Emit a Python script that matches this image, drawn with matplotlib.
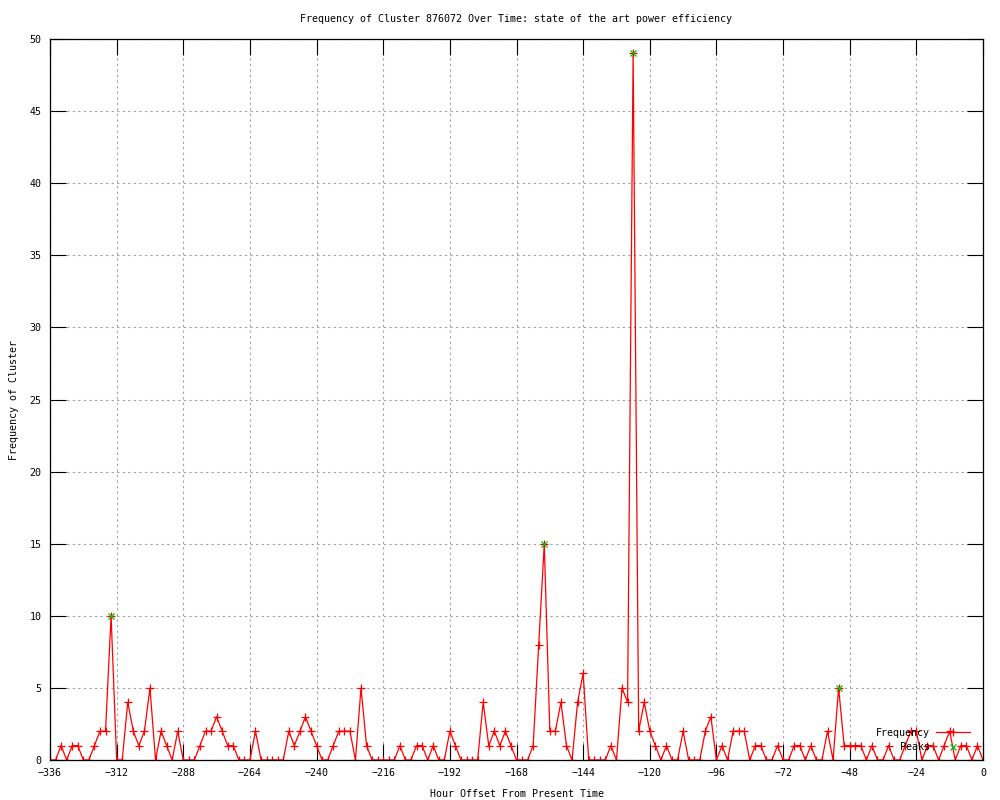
import numpy as np
import matplotlib
matplotlib.use("Agg")
import matplotlib.pyplot as plt

plt.rcParams['font.family'] = ['DejaVu Sans Mono']
plt.rcParams['font.size'] = 7.2

# hourly offsets, one sample every 2 hours
hours = np.arange(-336, 1, 2)

freq = [
    0, 0, 1, 0, 1, 1, 0, 0, 1, 2,
    2, 10, 0, 0, 4, 2, 1, 2, 5, 0,
    2, 1, 0, 2, 0, 0, 0, 1, 2, 2,
    3, 2, 1, 1, 0, 0, 0, 2, 0, 0,
    0, 0, 0, 2, 1, 2, 3, 2, 1, 0,
    0, 1, 2, 2, 2, 0, 5, 1, 0, 0,
    0, 0, 0, 1, 0, 0, 1, 1, 0, 1,
    0, 0, 2, 1, 0, 0, 0, 0, 4, 1,
    2, 1, 2, 1, 0, 0, 0, 1, 8, 15,
    2, 2, 4, 1, 0, 4, 6, 0, 0, 0,
    0, 1, 0, 5, 4, 49, 2, 4, 2, 1,
    0, 1, 0, 0, 2, 0, 0, 0, 2, 3,
    0, 1, 0, 2, 2, 2, 0, 1, 1, 0,
    0, 1, 0, 0, 1, 1, 0, 1, 0, 0,
    2, 0, 5, 1, 1, 1, 1, 0, 1, 0,
    0, 1, 0, 0, 1, 2, 2, 0, 1, 1,
    0, 1, 2, 0, 1, 1, 0, 1, 0,
]

peak_hours = [-314, -158, -126, -52]
peak_vals = [freq[list(hours).index(h)] for h in peak_hours]

x_ticks = np.arange(-336, 1, 24)
y_ticks = np.arange(0, 51, 5)

fig = plt.figure(figsize=(10, 8), dpi=100)
ax = fig.add_axes([0.05, 0.05, 0.933, 0.90125])

ax.plot(hours, freq, color='red', lw=0.9, marker='+', ms=6, mew=0.9,
        label='Frequency')
ax.plot(peak_hours, peak_vals, ls='none', color='#00c000', marker='x',
        ms=5, mew=0.9, label='    Peaks')

ax.set_xlim(-336, 0)
ax.set_ylim(0, 50)
ax.set_xticks(x_ticks)
ax.set_yticks(y_ticks)
ax.tick_params(direction='in', length=11.5, width=0.8, top=True, right=True,
               pad=6, labelsize=7.2)
ax.grid(True, color='#a0a0a0', ls=(0, (2, 3)), lw=0.8)
for s in ax.spines.values():
    s.set_linewidth(0.9)

ax.set_title('Frequency of Cluster 876072 Over Time: state of the art power efficiency',
             fontsize=7.2, pad=12)
ax.set_xlabel('Hour Offset From Present Time', fontsize=7.2, labelpad=8)
ax.set_ylabel('Frequency of Cluster', fontsize=7.2, labelpad=8)

ax.legend(loc='lower right', bbox_to_anchor=(0.997, -0.003), frameon=False,
          markerfirst=False, handlelength=3.4, handletextpad=0.6,
          labelspacing=0.45, borderaxespad=0.6, fontsize=7.2)

fig.savefig('out.png', dpi=100)
